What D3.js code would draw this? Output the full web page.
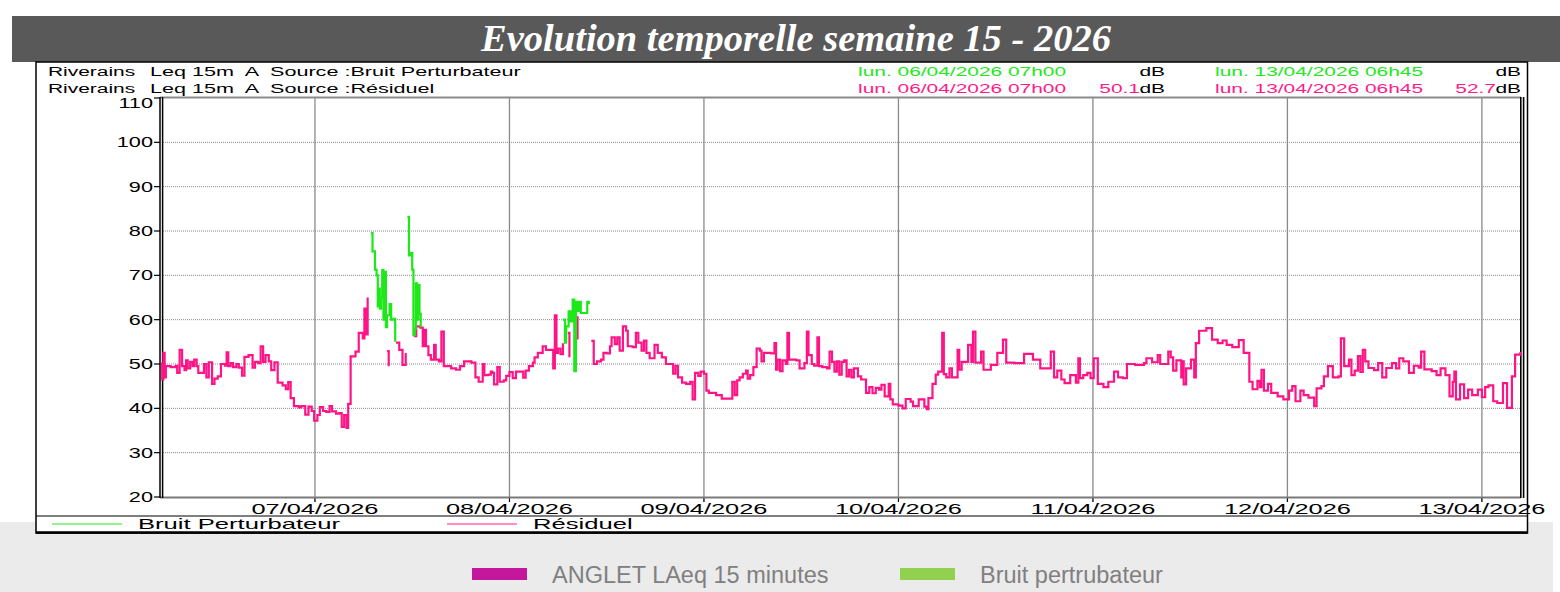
<!DOCTYPE html>
<html>
<head>
<meta charset="utf-8">
<script src="https://cdn.jsdelivr.net/npm/d3@7"></script>
<style>
  body { margin: 0; background: #fff; }
  svg { display: block; }
  text { white-space: pre; }
</style>
</head>
<body>
<svg id="chart" width="1560" height="592"></svg>
<script>
// heures depuis lun. 06/04/2026 07h00, niveau en dB(A)
var residuel = [
  [0, 50.1], [0.15, 46.5], [0.3, 52.5], [0.45, 47], [0.6, 49.5], [1.2, 49.3], [1.8, 49.6], [2.0, 48],
  [2.3, 53.2], [2.6, 49.5], [2.9, 48.6], [3.1, 50.8], [3.3, 49], [3.6, 50.5], [3.9, 49.5], [4.1, 51],
  [4.4, 49.5], [4.6, 48], [5.3, 50], [5.6, 47], [5.9, 50.4], [6.3, 45.5], [6.6, 46.7], [7.0, 47.2],
  [7.4, 50], [7.9, 49.6], [8.1, 52.6], [8.3, 49.5], [8.6, 50.2], [8.9, 49.3], [9.3, 50], [9.6, 49.2],
  [10.0, 47.4], [10.3, 51.6], [10.8, 52], [11.3, 49.2], [11.6, 50.5], [12.0, 50.2], [12.3, 54], [12.6, 50.5],
  [12.9, 52], [13.3, 50.6], [13.6, 48.6], [14.0, 50.4], [14.4, 45.8], [15.0, 45.2], [15.4, 44.3], [15.7, 45.9],
  [16.0, 42.3], [16.4, 40.5], [17.0, 40.2], [17.3, 40.5], [17.8, 38.6], [18.2, 40.4], [18.6, 39.4], [18.9, 37.2],
  [19.3, 38.5], [19.6, 40.3], [20.0, 39.4], [20.4, 39.2], [20.8, 40.5], [21.1, 39.3], [21.6, 38.8], [22.0, 38.9],
  [22.3, 35.8], [22.6, 38.5], [22.9, 35.6], [23.1, 41], [23.4, 51.7], [24.0, 52.8], [24.4, 57], [24.9, 55.8],
  [25.1, 62.5], [25.3, 56.7], [25.5, 65], [25.8, null],
  [27.9, 52.9], [28.1, 49.5], [28.3, null],
  [29.0, 54.8], [29.4, 53.2], [29.8, 49.8], [30.2, 52.5], [30.5, null],
  [31.2, 56.3], [31.5, 58.5], [32.0, 58.2], [32.3, 54], [32.5, 57.7], [32.7, 54], [33.0, 52], [33.3, 51],
  [33.7, 54.3], [33.9, 51], [34.3, 50.6], [34.6, 57.3], [34.9, 49.5], [35.8, 49], [36.4, 48.7], [36.9, 49.5],
  [37.4, 50.6], [38.3, 50.3], [38.8, 47], [39.2, 46], [39.7, 50], [39.9, 47.5], [40.4, 47.6], [40.7, 48.3],
  [40.9, 48], [41.1, 45.4], [41.5, 49.3], [41.8, 46], [42.3, 46.3], [42.6, 47.3], [43.0, 48.2], [43.4, 46.8],
  [43.8, 48.3], [44.5, 48.3], [44.7, 46.9], [45.0, 48.5], [45.4, 49.5], [45.9, 50.3], [46.1, 51.5], [46.5, 52.5],
  [47.1, 54], [47.5, 53.2], [48.2, 53.2], [48.4, 49], [48.6, 61], [48.8, 52.5], [49.0, 53.5], [49.3, 52.2],
  [49.6, 54.7], [49.8, null],
  [50.2, 57], [50.4, 51.5], [50.6, null],
  [51.2, 60.5], [51.4, 55.5], [51.6, null],
  [53.1, 55.2], [53.4, 50], [53.8, 50.6], [54.3, 51], [54.6, 52.5], [55.0, 52.4], [55.4, 54], [55.6, 56],
  [56.0, 54.5], [56.3, 56], [56.6, 53], [57.0, 58.5], [57.4, 57.5], [57.6, 54], [58.2, 53.8], [58.6, 57],
  [58.9, 54.8], [59.3, 53], [59.6, 55.3], [59.9, 52.5], [60.3, 51.3], [60.9, 54.3], [61.3, 52.5], [61.8, 51.5],
  [62.3, 50], [62.9, 50], [63.2, 47.8], [63.5, 49.6], [63.8, 47], [64.3, 45.8], [64.8, 45.5], [65.3, 46],
  [65.6, 42], [65.9, 48], [66.3, 47.3], [66.6, 48.3], [67.0, 47.8], [67.3, 44], [67.6, 43.5], [68.5, 43],
  [69.2, 42.2], [70.2, 42.2], [70.5, 46], [70.8, 43], [71.1, 46.3], [71.4, 47], [71.8, 47.8], [72.2, 48.5],
  [72.4, 46.7], [72.7, 47.5], [73.1, 49.3], [73.5, 53.5], [73.9, 53], [74.1, 50.6], [74.4, 52.5], [75.3, 52.4],
  [75.7, 54.7], [75.9, 48.7], [76.1, 51], [76.4, 48.4], [76.7, 50.8], [77.1, 50], [77.3, 57], [77.5, 51],
  [78.4, 50.8], [78.8, 49], [79.4, 50.2], [79.7, 57.3], [79.9, 52], [80.3, 50], [80.6, 49.6], [81.0, 56],
  [81.2, 49.5], [81.6, 49.3], [82.2, 49], [82.5, 52.8], [82.8, 50.5], [83.1, 48.3], [83.4, 50.6], [83.7, 47.6],
  [84.0, 50.5], [84.3, 50.8], [84.6, 47.2], [84.9, 48.7], [85.2, 47], [85.5, 49], [86.0, 47.2], [86.4, 46.5],
  [87.0, 43.5], [87.4, 44.8], [87.8, 43.4], [88.2, 44.6], [88.6, 44.2], [88.9, 45.3], [89.3, 42.7], [89.8, 45.5],
  [90.0, 42], [90.3, 40.9], [91.0, 40.6], [91.5, 40], [91.9, 42.1], [92.5, 41.5], [92.8, 40.5], [93.5, 42],
  [94.2, 40.4], [94.5, 39.8], [94.7, 42.3], [95.2, 45.5], [95.6, 47.6], [95.9, 48.3], [96.4, 57], [96.6, 47.7],
  [96.9, 47], [97.3, 49], [97.6, 47], [98.3, 53.2], [98.5, 48.7], [98.8, 50.5], [99.6, 54.3], [100.0, 50.5],
  [100.2, 57.3], [100.5, 50.3], [101.2, 52.8], [101.5, 48.7], [102.4, 49.8], [103.2, 52.5], [103.9, 55.5], [104.3, 50.3],
  [105.3, 50.2], [106.5, 52.3], [107.6, 51], [108.5, 49], [109.8, 52.8], [110.2, 47], [110.6, 48.5], [111.1, 46.5],
  [111.5, 45.7], [112.2, 47.5], [112.9, 45.8], [113.2, 51.3], [113.4, 46.8], [113.8, 47.5], [114.3, 48], [114.7, 46.8],
  [115.1, 51.3], [115.6, 45.5], [116.3, 44.8], [116.9, 46], [117.6, 48.3], [118.1, 47], [118.7, 46.8], [119.2, 50],
  [120.2, 49.8], [121.3, 50.2], [121.6, 51.3], [122.3, 50.4], [123.0, 52], [123.3, 50], [124.3, 52.8], [124.6, 51.5],
  [124.9, 48.5], [125.3, 50.8], [125.9, 47], [126.0, 50.6], [126.2, 45.4], [126.5, 49], [127.1, 51], [127.5, 47],
  [127.7, 54.7], [128.1, 57.5], [129.0, 58.1], [129.7, 55.5], [130.4, 54.7], [131.0, 55.3], [131.5, 54.3], [132.2, 53.8],
  [133.0, 55.4], [133.6, 52.5], [134.3, 46], [134.7, 44.3], [135.3, 46.2], [135.6, 44.8], [135.8, 48.7], [136.1, 44],
  [136.6, 45.5], [137.0, 43.5], [137.8, 42.7], [138.5, 42], [139.2, 44], [139.6, 45], [140.0, 41.6], [140.6, 44],
  [141.0, 43], [141.6, 42.4], [142.3, 40.5], [142.6, 44.5], [143.2, 45], [143.5, 47.2], [144.0, 49.5], [144.6, 47],
  [145.3, 47.2], [145.6, 55.8], [146.0, 49.5], [146.6, 51], [146.9, 47.5], [147.3, 48.5], [147.7, 51.8], [148.0, 48.2],
  [148.3, 53.2], [148.6, 50.6], [149.0, 49.1], [149.7, 48.6], [150.2, 50.2], [150.7, 47], [151.2, 49.1], [151.9, 50.2],
  [152.4, 49], [152.8, 51.3], [153.3, 50.6], [154.0, 48], [154.6, 49.6], [155.2, 49.2], [155.5, 52.8], [155.9, 48.8],
  [156.8, 48.4], [157.4, 47.5], [157.9, 49], [158.5, 47.5], [159.0, 42.7], [159.4, 46], [159.6, 48.3], [159.8, 42],
  [160.3, 45.4], [160.8, 42.3], [161.3, 44.2], [161.8, 43], [162.5, 44.2], [163.0, 42.5], [163.4, 44.8], [163.8, 45.2],
  [164.4, 41.6], [164.9, 41.2], [165.6, 45.7], [166.1, 40.1], [166.7, 47.2], [167.1, 52.1], [167.75, 52.7]
];

var perturbateur = [
  [25.9, 79.5], [26.1, 75.4], [26.4, 71.3], [26.6, 70], [26.75, 63], [26.9, 67], [27.0, 62.5], [27.15, 65],
  [27.3, 71.2], [27.45, 60], [27.6, 70.8], [27.75, 58.3], [27.9, 61], [28.2, 63.5], [28.4, 60], [28.7, 60.2],
  [28.9, 55], [29.1, null],
  [30.4, 83.2], [30.6, 74.5], [30.8, 75], [31.0, 71.3], [31.15, 56.5], [31.3, 58], [31.45, 68.2], [31.6, 60],
  [31.75, 67.8], [31.9, 61.3], [32.05, 58.3], [32.2, null],
  [49.6, 60], [49.85, 54.8], [50.0, 58.5], [50.3, 61.9], [50.55, 59.6], [50.8, 64.5], [51.0, 48.4], [51.2, 64],
  [51.4, 62], [51.6, 64], [51.8, 61.5], [52.6, 64], [52.8, 63.5], [53.1, null]
];

var yTicks = [20, 30, 40, 50, 60, 70, 80, 90, 100, 110];
var dayLabels = ["07/04/2026", "08/04/2026", "09/04/2026", "10/04/2026", "11/04/2026", "12/04/2026", "13/04/2026"];
var headerRows = [
  {name: "Riverains", desc: "Leq 15m  A  Source :Bruit Perturbateur", color: "#22e81e", v1: "", v2: ""},
  {name: "Riverains", desc: "Leq 15m  A  Source :Résiduel", color: "#ff1a8c", v1: "50.1", v2: "52.7"}
];
var cursorDates = ["lun. 06/04/2026 07h00", "lun. 13/04/2026 06h45"];
var legendItems = [
  {name: "Bruit Perturbateur", color: "#22e81e"},
  {name: "Résiduel", color: "#ff1a8c"}
];
var bottomLegend = [
  {name: "ANGLET LAeq 15 minutes", color: "#c4179c"},
  {name: "Bruit pertrubateur", color: "#92d050"}
];

var startTime = Date.UTC(2026, 3, 6, 5, 0);   // 07h00 heure locale
var endHours = 167.75;
function toDate(h) { return new Date(startTime + h * 3600000); }

var svg = d3.select("#chart");
var FONT = "Liberation Sans, Arial, sans-serif";
var SX = 1.55;   // l'image du graphe est étirée horizontalement

// texte étiré
function stext(parent, x, y, txt, size, anchor, color, sx) {
  return parent.append("text")
    .attr("transform", "translate(" + x + "," + y + ") scale(" + (sx || SX) + ",1)")
    .attr("font-family", FONT)
    .attr("font-size", size)
    .attr("text-anchor", anchor || "start")
    .attr("fill", color || "#000")
    .text(txt);
}

// fond gris en bas
svg.append("rect").attr("x", 0).attr("y", 522).attr("width", 1553).attr("height", 70).attr("fill", "#ebebeb");

// bandeau titre
svg.append("rect").attr("x", 12).attr("y", 16).attr("width", 1548).attr("height", 46).attr("fill", "#595959");
svg.append("text")
  .attr("x", 796).attr("y", 51)
  .attr("text-anchor", "middle")
  .attr("font-family", "Liberation Serif, Times New Roman, serif")
  .attr("font-style", "italic")
  .attr("font-weight", "bold")
  .attr("font-size", 38.5)
  .attr("fill", "#fff")
  .text("Evolution temporelle semaine 15 - 2026");

// cadre du graphe
svg.append("rect").attr("x", 36).attr("y", 62).attr("width", 1491.5).attr("height", 471)
  .attr("fill", "#fff").attr("stroke", "#000").attr("stroke-width", 1.5);
svg.append("line").attr("x1", 36).attr("x2", 1527.5).attr("y1", 532.5).attr("y2", 532.5)
  .attr("stroke", "#000").attr("stroke-width", 2.5);
svg.append("line").attr("x1", 36).attr("x2", 1527.5).attr("y1", 516).attr("y2", 516)
  .attr("stroke", "#000").attr("stroke-width", 1.2);

// en-tête
var head = svg.append("g");
headerRows.forEach(function (r, i) {
  var y = 76 + i * 17;
  stext(head, 48, y, r.name, 13.5);
  stext(head, 150, y, r.desc, 13.5, "start", "#000", 1.6);
  stext(head, 858, y, cursorDates[0], 13.5, "start", r.color);
  stext(head, 1140, y, r.v1, 13.5, "end", r.color);
  stext(head, 1165, y, "dB", 13.5, "end");
  stext(head, 1215, y, cursorDates[1], 13.5, "start", r.color);
  stext(head, 1496, y, r.v2, 13.5, "end", r.color);
  stext(head, 1521, y, "dB", 13.5, "end");
});

// échelles
var x = d3.scaleUtc()
  .domain([toDate(0), toDate(endHours)])
  .range([161, 1520.4]);
var y = d3.scaleLinear()
  .domain([20, 110])
  .range([497, 98]);

var plot = svg.append("g");

// grille horizontale
plot.selectAll("line.hgrid")
  .data(yTicks.filter(function (d) { return d > 20 && d < 110; }))
  .enter().append("line")
  .attr("class", "hgrid")
  .attr("x1", 163).attr("x2", 1520)
  .attr("y1", function (d) { return y(d); })
  .attr("y2", function (d) { return y(d); })
  .attr("stroke", "#8a8a8a").attr("stroke-width", 1)
  .attr("stroke-dasharray", "1,1");

// grille verticale (jours)
var days = x.ticks(d3.utcDay.every(1)).filter(function (d) { return x(d) > 170; });
plot.selectAll("line.vgrid")
  .data(days)
  .enter().append("line")
  .attr("class", "vgrid")
  .attr("x1", function (d) { return x(d); })
  .attr("x2", function (d) { return x(d); })
  .attr("y1", 98).attr("y2", 502)
  .attr("stroke", "#8a8a8a").attr("stroke-width", 1.3);
plot.selectAll("line.vtick")
  .data(days)
  .enter().append("line")
  .attr("x1", function (d) { return x(d); })
  .attr("x2", function (d) { return x(d); })
  .attr("y1", 497).attr("y2", 502)
  .attr("stroke", "#000").attr("stroke-width", 1);
days.forEach(function (d, i) {
  stext(plot, x(d), 514, dayLabels[i], 14.5, "middle", "#000", 1.75);
});

// bordures du tracé
plot.append("line").attr("x1", 160).attr("x2", 1521).attr("y1", 97.5).attr("y2", 97.5)
  .attr("stroke", "#8a8a8a").attr("stroke-width", 2);
plot.append("line").attr("x1", 160).attr("x2", 1521).attr("y1", 497.5).attr("y2", 497.5)
  .attr("stroke", "#7a7a7a").attr("stroke-width", 2);
[160, 162.6].forEach(function (xx) {
  plot.append("line").attr("x1", xx).attr("x2", xx).attr("y1", 97).attr("y2", 498)
    .attr("stroke", "#000").attr("stroke-width", 1.5);
});
[1520.8, 1523.6].forEach(function (xx) {
  plot.append("line").attr("x1", xx).attr("x2", xx).attr("y1", 97).attr("y2", 498)
    .attr("stroke", "#000").attr("stroke-width", 1.6);
});

// axe Y
yTicks.forEach(function (t) {
  plot.append("line").attr("x1", 154).attr("x2", 160).attr("y1", y(t)).attr("y2", y(t))
    .attr("stroke", "#000").attr("stroke-width", 1.2);
  var ly = Math.max(y(t), 103);
  stext(plot, 153, ly + 5, t, 14, "end");
});

// courbes
var line = d3.line()
  .defined(function (d) { return d[1] != null; })
  .x(function (d) { return x(toDate(d[0])); })
  .y(function (d) { return y(d[1]); })
  .curve(d3.curveStepAfter);

plot.append("path")
  .datum(residuel)
  .attr("d", line)
  .attr("fill", "none")
  .attr("stroke", "#ff1487")
  .attr("stroke-width", 2.2);
plot.append("path")
  .datum(perturbateur)
  .attr("d", line)
  .attr("fill", "none")
  .attr("stroke", "#1ee81a")
  .attr("stroke-width", 2.2);

// légende du graphe
var leg = svg.append("g");
legendItems.forEach(function (d, i) {
  var x0 = i === 0 ? 52 : 447;
  leg.append("line").attr("x1", x0).attr("x2", x0 + 70).attr("y1", 524).attr("y2", 524)
    .attr("stroke", d.color).attr("stroke-width", 1);
  stext(leg, x0 + 86, 529, d.name, 14, "start", "#000", 1.83);
});

// légende du bas
var bl = svg.append("g");
bottomLegend.forEach(function (d, i) {
  var x0 = i === 0 ? 472 : 900;
  bl.append("rect").attr("x", x0).attr("y", 568).attr("width", 55).attr("height", 12).attr("fill", d.color);
  bl.append("text")
    .attr("x", x0 + 80).attr("y", 583)
    .attr("font-family", FONT)
    .attr("font-size", 23.5)
    .attr("fill", "#808080")
    .text(d.name);
});
</script>
</body>
</html>
